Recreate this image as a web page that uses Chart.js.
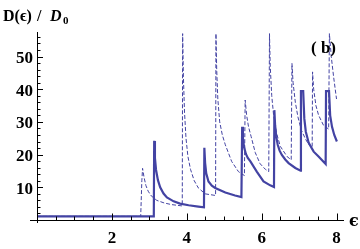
<!DOCTYPE html>
<html lang="en">
<head>
    <meta charset="UTF-8">
    <title>D(e)/D0 chart</title>
    <script src="https://cdn.jsdelivr.net/npm/chart.js"></script>
    <style>
        body { margin: 0; background: #fff; }
        #myChart { display: block; }
    </style>
</head>
<body>
    <canvas id="myChart" width="360" height="249"></canvas>

    <script type="text/javascript">
        // solid curve (thick)
        var solidEps = [0, 3.12, 3.13, 3.15, 3.18, 3.23, 3.29, 3.38, 3.47, 3.65, 3.82, 4.05, 4.31, 4.46,
                        4.47, 4.49, 4.52, 4.58, 4.67, 4.76, 5.03, 5.29, 5.46,
                        5.48, 5.50, 5.53, 5.58, 5.63, 5.70, 5.87, 6.05, 6.23, 6.33,
                        6.34, 6.36, 6.39, 6.43, 6.48, 6.54, 6.63, 6.72, 6.90, 7.04,
                        7.05, 7.11, 7.14, 7.18, 7.26, 7.39, 7.52, 7.71,
                        7.72, 7.80, 7.83, 7.88, 7.94, 8.01];
        var solidDos = [1.1, 1.1, 24.2, 19, 15.3, 12.2, 10, 8.1, 6.9, 5.7, 5.0, 4.5, 4.1, 3.9,
                        22.1, 17.5, 14.3, 11.8, 10.5, 9.8, 8.4, 7.5, 7.0,
                        28.5, 25, 22.3, 20.2, 19.0, 17.9, 14.8, 11.8, 10.6, 10.1,
                        33.6, 29, 25.5, 23, 21.2, 19.9, 18.5, 17.4, 15.9, 15.1,
                        39.4, 39.4, 31, 27, 23.5, 20.9, 19.4, 17.1,
                        39.4, 39.4, 32, 28.5, 26, 24];

        // dashed curve (thin)
        var dashEps = [0, 2.77, 2.80, 2.82, 2.86, 2.91, 2.97, 3.05, 3.20, 3.40, 3.60, 3.88,
                       3.89, 3.91, 3.94, 3.98, 4.03, 4.10, 4.20, 4.31, 4.49, 4.77,
                       4.78, 4.80, 4.83, 4.88, 4.95, 5.03, 5.20, 5.38, 5.54,
                       5.56, 5.60, 5.65, 5.72, 5.83, 5.96, 6.10, 6.19,
                       6.21, 6.23, 6.27, 6.32, 6.40, 6.50, 6.68, 6.79,
                       6.81, 6.84, 6.90, 6.97, 7.06, 7.17, 7.26, 7.35,
                       7.36, 7.39, 7.45, 7.52, 7.65, 7.79,
                       7.81, 7.86, 7.92, 8.00];
        var dashDos = [1.1, 1.1, 12, 15.8, 13, 10.5, 8.8, 7.4, 6, 5.2, 4.7, 4.3,
                       57, 44, 33, 25, 19.5, 15.5, 12, 9.8, 8.0, 7.5,
                       57, 46, 37, 30, 26, 23, 17.9, 14.8, 13.6,
                       36.7, 32, 28.5, 25.5, 20.6, 17.2, 15.5, 14.8,
                       57, 47, 38, 32, 26.5, 22.5, 19.4, 18.4,
                       47.9, 42, 36, 31.5, 27.5, 24.8, 23, 22.1,
                       45.3, 40, 35, 32.1, 29, 27.8,
                       57, 50, 44, 37];

        var xTicks = [2, 4, 6, 8];
        var yTicks = [10, 20, 30, 40, 50];

        var lineColor = '#4343a3';
        var font = 'bold 17px "Liberation Serif", "Times New Roman", serif';

        function toPoints(xs, ys) {
            return xs.map(function (x, i) { return { x: x, y: ys[i] }; });
        }

        // draws the axes, ticks and texts (Mathematica style)
        var axesPlugin = {
            id: 'axesPlugin',
            afterDraw: function (chart) {
                var c = chart.ctx;
                var xs = chart.scales.x;
                var ys = chart.scales.y;
                var x0 = xs.getPixelForValue(0);
                var y0 = ys.getPixelForValue(0);
                c.save();
                c.strokeStyle = '#000';
                c.lineWidth = 1;
                c.beginPath();
                c.moveTo(30, y0 + 0.5);
                c.lineTo(xs.right, y0 + 0.5);
                c.moveTo(x0 + 0.5, ys.top);
                c.lineTo(x0 + 0.5, y0 + 3);
                // x ticks every 0.5
                for (var v = 0.5; v <= 8.01; v += 0.5) {
                    var px = Math.round(xs.getPixelForValue(v)) + 0.5;
                    var len = (v % 2 === 0) ? 6.5 : 3.5;
                    c.moveTo(px, y0);
                    c.lineTo(px, y0 - len);
                }
                // y ticks every 2
                for (var w = 2; w <= 56; w += 2) {
                    var py = Math.round(ys.getPixelForValue(w)) + 0.5;
                    var l2 = (w % 10 === 0) ? 6 : 3.5;
                    c.moveTo(x0, py);
                    c.lineTo(x0 + l2, py);
                }
                c.stroke();

                c.fillStyle = '#000';
                c.font = font;
                c.textAlign = 'center';
                c.textBaseline = 'alphabetic';
                xTicks.forEach(function (t) {
                    c.fillText(String(t), xs.getPixelForValue(t), 243);
                });
                c.textAlign = 'right';
                c.textBaseline = 'middle';
                yTicks.forEach(function (t) {
                    c.fillText(String(t), x0 - 4, ys.getPixelForValue(t) + 2);
                });

                // axis titles
                c.textAlign = 'left';
                c.textBaseline = 'alphabetic';
                c.font = 'bold 16px "Liberation Serif", "DejaVu Serif", serif';
                c.fillText('D(\u03F5)', 3, 21);
                c.fillText('/', 37, 21);
                c.font = 'italic bold 16px "Liberation Serif", "DejaVu Serif", serif';
                c.fillText('D', 50, 21);
                c.font = 'bold 11px "Liberation Serif", "DejaVu Serif", serif';
                c.fillText('0', 63, 24);
                c.font = 'bold 16px "DejaVu Serif", "Liberation Serif", serif';
                c.fillText('\u03F5', 349, 226);

                c.font = font;
                c.fillText('( b)', 311, 53);
                c.restore();
            }
        };

        var ctx = document.querySelector('#myChart');
        new Chart(ctx, {
            type: 'scatter',
            data: {
                datasets: [
                    {
                        data: toPoints(dashEps, dashDos),
                        showLine: true,
                        borderColor: lineColor,
                        borderWidth: 1,
                        borderDash: [4, 2],
                        pointRadius: 0,
                        tension: 0
                    },
                    {
                        data: toPoints(solidEps, solidDos),
                        showLine: true,
                        borderColor: lineColor,
                        borderWidth: 2.2,
                        pointRadius: 0,
                        tension: 0
                    }
                ]
            },
            options: {
                responsive: false,
                animation: false,
                layout: { padding: { left: 37, right: 16, top: 32, bottom: 29 } },
                plugins: {
                    legend: { display: false },
                    tooltip: { enabled: false }
                },
                scales: {
                    x: { type: 'linear', min: 0, max: 8.2, display: false },
                    y: { type: 'linear', min: 0, max: 57.5, display: false }
                }
            },
            plugins: [axesPlugin]
        });
    </script>
</body>
</html>
